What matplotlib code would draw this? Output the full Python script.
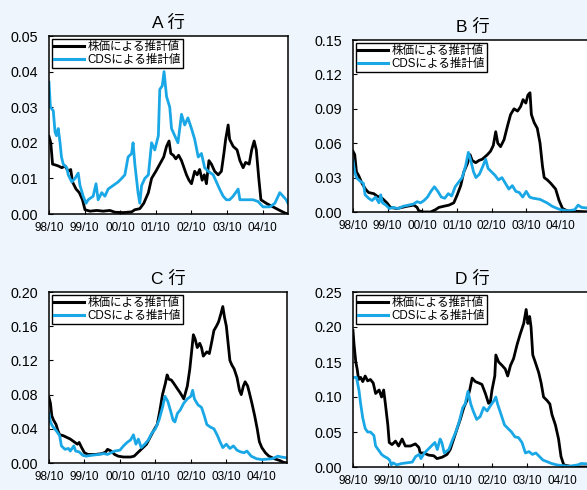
import matplotlib
matplotlib.use("Agg")
import matplotlib.pyplot as plt
import numpy as np

plt.rcParams['font.family'] = ['Liberation Sans', 'Noto Sans CJK JP', 'DejaVu Sans']

# time in years since 1998/10
tick_labels = ["98/10", "99/10", "00/10", "01/10", "02/10", "03/10", "04/10"]
titles = ["A 行", "B 行", "C 行", "D 行"]
legend_labels = ["株価による推計値", "CDSによる推計値"]

# ---- Panel A ----
a_stock_t = [0, 0.05, 0.10, 0.17, 0.26, 0.36, 0.45, 0.54, 0.61, 0.66, 0.76, 0.85, 0.94, 1.01, 1.15, 1.34,
             1.52, 1.71, 1.85, 2.08, 2.32, 2.41, 2.55, 2.66, 2.79, 2.88, 3.0, 3.11, 3.22, 3.30, 3.37, 3.42,
             3.49, 3.56, 3.64, 3.72, 3.79, 3.86, 3.93, 4.0, 4.09, 4.16, 4.23, 4.30, 4.36, 4.42, 4.49, 4.56,
             4.65, 4.75, 4.84, 4.91, 4.96, 5.03, 5.07, 5.17, 5.28, 5.36, 5.45, 5.52, 5.62, 5.69, 5.76, 5.82,
             5.89, 5.95, 6.10, 6.29, 6.48, 6.62, 6.71]
a_stock_v = [0.0218, 0.020, 0.014, 0.0138, 0.0135, 0.013, 0.0135, 0.012, 0.0125, 0.009, 0.007, 0.006, 0.004,
             0.0012, 0.0008, 0.001, 0.0008, 0.001, 0.0005, 0.0004, 0.0006, 0.0012, 0.0015, 0.003, 0.006,
             0.010, 0.012, 0.014, 0.016, 0.019, 0.0205, 0.017, 0.0165, 0.0155, 0.0165, 0.015, 0.013, 0.011,
             0.0095, 0.0085, 0.012, 0.011, 0.0125, 0.0095, 0.011, 0.0085, 0.015, 0.014, 0.012, 0.011, 0.012,
             0.017, 0.021, 0.025, 0.021, 0.019, 0.018, 0.015, 0.013, 0.0145, 0.014, 0.018, 0.0205, 0.018,
             0.010, 0.004, 0.003, 0.002, 0.001, 0.0003, 0.0]
a_cds_t = [0, 0.04, 0.12, 0.17, 0.21, 0.26, 0.31, 0.35, 0.40, 0.50, 0.54, 0.64, 0.73, 0.82, 0.87, 0.96, 1.04,
           1.10, 1.24, 1.32, 1.38, 1.48, 1.57, 1.66, 1.80, 1.94, 2.04, 2.13, 2.22, 2.32, 2.36, 2.41, 2.50,
           2.55, 2.60, 2.69, 2.79, 2.88, 2.97, 3.07, 3.11, 3.18, 3.23, 3.30, 3.39, 3.44, 3.53, 3.62, 3.72,
           3.81, 3.90, 4.0, 4.09, 4.19, 4.28, 4.37, 4.47, 4.61, 4.70, 4.79, 4.89, 4.98, 5.07, 5.17, 5.31,
           5.36, 5.54, 5.73, 5.87, 6.01, 6.20, 6.34, 6.48, 6.57, 6.66, 6.71]
a_cds_v = [0.037, 0.030, 0.029, 0.023, 0.022, 0.024, 0.020, 0.016, 0.014, 0.013, 0.011, 0.009, 0.010, 0.0115,
           0.008, 0.005, 0.003, 0.004, 0.005, 0.0085, 0.004, 0.006, 0.005, 0.007, 0.008, 0.009, 0.010, 0.011,
           0.016, 0.017, 0.020, 0.014, 0.006, 0.003, 0.008, 0.010, 0.011, 0.020, 0.018, 0.022, 0.035, 0.036,
           0.040, 0.033, 0.030, 0.024, 0.022, 0.020, 0.028, 0.025, 0.027, 0.024, 0.021, 0.016, 0.017, 0.013,
           0.012, 0.011, 0.009, 0.007, 0.005, 0.004, 0.004, 0.005, 0.007, 0.004, 0.004, 0.004, 0.0035, 0.002,
           0.002, 0.003, 0.006, 0.005, 0.004, 0.003]

# ---- Panel B ----
b_stock_t = [0, 0.05, 0.10, 0.16, 0.26, 0.36, 0.45, 0.60, 0.69, 0.84, 0.98, 1.08, 1.27, 1.56, 1.76, 1.85, 1.90,
             2.04, 2.24, 2.38, 2.48, 2.62, 2.77, 2.91, 3.01, 3.11, 3.20, 3.30, 3.38, 3.44, 3.54, 3.64, 3.73,
             3.88, 3.97, 4.05, 4.12, 4.18, 4.26, 4.36, 4.46, 4.55, 4.65, 4.75, 4.84, 4.91, 4.99, 5.05, 5.11,
             5.15, 5.23, 5.32, 5.40, 5.47, 5.52, 5.61, 5.71, 5.85, 5.95, 6.05, 6.19, 6.48, 6.9]
b_stock_v = [0.053, 0.050, 0.035, 0.032, 0.025, 0.020, 0.017, 0.016, 0.014, 0.012, 0.008, 0.004, 0.003, 0.005,
             0.006, 0.004, 0.001, 0.0, 0.0, 0.002, 0.004, 0.005, 0.006, 0.008, 0.015, 0.023, 0.035, 0.042,
             0.050, 0.045, 0.043, 0.045, 0.046, 0.050, 0.053, 0.058, 0.070, 0.060, 0.057, 0.063, 0.075, 0.085,
             0.090, 0.088, 0.092, 0.098, 0.095, 0.102, 0.104, 0.085, 0.078, 0.073, 0.060, 0.040, 0.030, 0.028,
             0.025, 0.020, 0.010, 0.003, 0.001, 0.0005, 0.0]
b_cds_t = [0, 0.05, 0.10, 0.20, 0.30, 0.35, 0.45, 0.55, 0.65, 0.75, 0.80, 0.85, 0.95, 1.05, 1.15, 1.30, 1.45,
           1.60, 1.75, 1.85, 1.95, 2.05, 2.15, 2.25, 2.35, 2.45, 2.55, 2.65, 2.75, 2.85, 2.95, 3.05, 3.15,
           3.25, 3.33, 3.40, 3.48, 3.55, 3.65, 3.75, 3.83, 3.90, 4.0, 4.1, 4.2, 4.3, 4.4, 4.5, 4.6, 4.7, 4.8,
           4.9, 5.0, 5.1, 5.2, 5.4, 5.6, 5.75, 5.9, 6.0, 6.2, 6.4, 6.5, 6.6, 6.9]
b_cds_v = [0.045, 0.035, 0.030, 0.027, 0.025, 0.015, 0.012, 0.010, 0.013, 0.008, 0.015, 0.008, 0.006, 0.003,
           0.004, 0.003, 0.005, 0.006, 0.007, 0.009, 0.008, 0.010, 0.013, 0.018, 0.022, 0.018, 0.013, 0.012,
           0.016, 0.014, 0.022, 0.026, 0.030, 0.040, 0.052, 0.045, 0.035, 0.030, 0.033, 0.040, 0.046, 0.038,
           0.035, 0.032, 0.028, 0.030, 0.025, 0.020, 0.023, 0.018, 0.017, 0.013, 0.018, 0.013, 0.012, 0.011,
           0.008, 0.005, 0.003, 0.002, 0.001, 0.002, 0.006, 0.004, 0.003]

# ---- Panel C ----
c_stock_t = [0, 0.04, 0.08, 0.13, 0.2, 0.25, 0.3, 0.4, 0.5, 0.6, 0.7, 0.8, 0.85, 0.92, 1.0, 1.1, 1.3, 1.5,
             1.6, 1.65, 1.75, 1.85, 1.95, 2.1, 2.3, 2.4, 2.45, 2.55, 2.65, 2.75, 2.85, 2.95, 3.05, 3.12, 3.2,
             3.28, 3.33, 3.38, 3.45, 3.52, 3.6, 3.7, 3.8, 3.9, 3.97, 4.02, 4.07, 4.12, 4.18, 4.25, 4.3, 4.35,
             4.45, 4.52, 4.58, 4.65, 4.72, 4.78, 4.85, 4.9, 4.95, 5.0, 5.05, 5.1, 5.15, 5.22, 5.3, 5.37, 5.42,
             5.48, 5.53, 5.6, 5.65, 5.72, 5.8, 5.87, 5.93, 6.0, 6.1, 6.2, 6.35, 6.5, 6.6, 6.71]
c_stock_v = [0.0765, 0.070, 0.055, 0.050, 0.045, 0.038, 0.033, 0.032, 0.030, 0.028, 0.025, 0.022, 0.024, 0.018,
             0.012, 0.010, 0.010, 0.011, 0.013, 0.016, 0.014, 0.010, 0.008, 0.007, 0.007, 0.008, 0.010, 0.014,
             0.018, 0.022, 0.030, 0.038, 0.045, 0.060, 0.080, 0.093, 0.103, 0.098, 0.097, 0.093, 0.088, 0.082,
             0.075, 0.090, 0.110, 0.130, 0.150, 0.145, 0.135, 0.140, 0.135, 0.125, 0.130, 0.128, 0.140, 0.155,
             0.160, 0.165, 0.175, 0.183, 0.170, 0.160, 0.140, 0.120, 0.115, 0.110, 0.100, 0.085, 0.080, 0.090,
             0.095, 0.090, 0.082, 0.070, 0.055, 0.040, 0.025, 0.018, 0.012, 0.008, 0.005, 0.003, 0.001, 0.0]
c_cds_t = [0, 0.04, 0.1, 0.2, 0.3, 0.35, 0.45, 0.55, 0.6, 0.7, 0.75, 0.85, 0.95, 1.05, 1.2, 1.4, 1.55, 1.65,
           1.75, 1.85, 2.0, 2.1, 2.2, 2.3, 2.38, 2.45, 2.52, 2.6, 2.7, 2.8, 2.9, 3.0, 3.1, 3.2, 3.27, 3.35,
           3.42, 3.5, 3.55, 3.62, 3.7, 3.8, 3.9, 4.0, 4.05, 4.1, 4.2, 4.3, 4.38, 4.45, 4.55, 4.65, 4.75, 4.82,
           4.9, 5.0, 5.1, 5.2, 5.3, 5.4, 5.5, 5.58, 5.7, 5.85, 6.0, 6.3, 6.45, 6.55, 6.71]
c_cds_v = [0.058, 0.048, 0.043, 0.038, 0.032, 0.020, 0.016, 0.017, 0.014, 0.020, 0.014, 0.013, 0.009, 0.008,
           0.009, 0.010, 0.011, 0.010, 0.012, 0.014, 0.015, 0.020, 0.024, 0.027, 0.033, 0.022, 0.028, 0.018,
           0.022, 0.027, 0.035, 0.040, 0.050, 0.065, 0.078, 0.072, 0.062, 0.050, 0.048, 0.058, 0.062, 0.070,
           0.075, 0.078, 0.085, 0.075, 0.068, 0.065, 0.055, 0.045, 0.042, 0.040, 0.032, 0.025, 0.018, 0.022,
           0.017, 0.020, 0.015, 0.013, 0.012, 0.014, 0.008, 0.005, 0.004, 0.005, 0.008, 0.007, 0.006]

# ---- Panel D ----
d_stock_t = [0, 0.03, 0.08, 0.12, 0.16, 0.22, 0.28, 0.35, 0.42, 0.5, 0.58, 0.65, 0.75, 0.82, 0.88, 0.93, 1.0,
             1.04, 1.12, 1.22, 1.31, 1.41, 1.5, 1.65, 1.79, 1.89, 1.93, 2.03, 2.17, 2.32, 2.41, 2.56, 2.7, 2.79,
             2.89, 2.99, 3.08, 3.18, 3.27, 3.35, 3.42, 3.51, 3.61, 3.7, 3.8, 3.89, 3.94, 3.99, 4.07, 4.1, 4.18,
             4.28, 4.37, 4.44, 4.52, 4.61, 4.71, 4.8, 4.9, 4.97, 5.02, 5.07, 5.11, 5.16, 5.23, 5.33, 5.4, 5.47,
             5.57, 5.65, 5.71, 5.81, 5.9, 5.97, 6.05, 6.24, 6.53, 6.9]
d_stock_v = [0.195, 0.175, 0.150, 0.140, 0.125, 0.128, 0.122, 0.130, 0.123, 0.125, 0.120, 0.105, 0.110, 0.100,
             0.110, 0.090, 0.060, 0.035, 0.032, 0.037, 0.030, 0.040, 0.030, 0.030, 0.033, 0.028, 0.020, 0.020,
             0.017, 0.016, 0.012, 0.014, 0.018, 0.025, 0.040, 0.055, 0.068, 0.085, 0.095, 0.110, 0.127, 0.122,
             0.120, 0.118, 0.105, 0.091, 0.092, 0.110, 0.130, 0.160, 0.150, 0.145, 0.140, 0.130, 0.145, 0.155,
             0.175, 0.190, 0.205, 0.225, 0.205, 0.215, 0.200, 0.160, 0.150, 0.135, 0.120, 0.100, 0.095, 0.090,
             0.075, 0.060, 0.040, 0.015, 0.003, 0.001, 0.0, 0.0]
d_cds_t = [0, 0.1, 0.17, 0.22, 0.28, 0.35, 0.42, 0.5, 0.6, 0.65, 0.75, 0.82, 0.9, 0.98, 1.05, 1.1, 1.15, 1.25,
           1.4, 1.55, 1.7, 1.8, 1.9, 1.95, 2.05, 2.15, 2.25, 2.35, 2.42, 2.5, 2.55, 2.62, 2.75, 2.85, 2.95,
           3.05, 3.15, 3.22, 3.3, 3.38, 3.45, 3.55, 3.65, 3.75, 3.85, 3.95, 4.05, 4.1, 4.15, 4.25, 4.35, 4.45,
           4.55, 4.65, 4.75, 4.85, 4.95, 5.05, 5.15, 5.25, 5.35, 5.45, 5.55, 5.7, 5.85, 6.0, 6.2, 6.45, 6.55,
           6.9]
d_cds_v = [0.128, 0.128, 0.110, 0.090, 0.070, 0.055, 0.050, 0.050, 0.045, 0.030, 0.023, 0.018, 0.015, 0.013,
           0.010, 0.003, 0.006, 0.003, 0.005, 0.006, 0.007, 0.015, 0.018, 0.012, 0.020, 0.025, 0.030, 0.035,
           0.025, 0.040, 0.035, 0.020, 0.025, 0.038, 0.050, 0.065, 0.085, 0.090, 0.108, 0.090, 0.080, 0.068,
           0.072, 0.085, 0.080, 0.088, 0.095, 0.100, 0.090, 0.075, 0.060, 0.055, 0.050, 0.043, 0.042, 0.035,
           0.020, 0.022, 0.018, 0.020, 0.015, 0.010, 0.008, 0.005, 0.003, 0.002, 0.001, 0.003, 0.005, 0.004]

panels = [
    dict(title=titles[0], st=a_stock_t, sv=a_stock_v, ct=a_cds_t, cv=a_cds_v,
         yticks=[0.00, 0.01, 0.02, 0.03, 0.04, 0.05], box=(49, 36, 288, 214), xmax=6.71),
    dict(title=titles[1], st=b_stock_t, sv=b_stock_v, ct=b_cds_t, cv=b_cds_v,
         yticks=[0.00, 0.03, 0.06, 0.09, 0.12, 0.15], box=(353, 40, 592, 212), xmax=6.9),
    dict(title=titles[2], st=c_stock_t, sv=c_stock_v, ct=c_cds_t, cv=c_cds_v,
         yticks=[0.00, 0.04, 0.08, 0.12, 0.16, 0.20], box=(49, 292, 287, 463), xmax=6.71),
    dict(title=titles[3], st=d_stock_t, sv=d_stock_v, ct=d_cds_t, cv=d_cds_v,
         yticks=[0.00, 0.05, 0.10, 0.15, 0.20, 0.25], box=(353, 292, 592, 467), xmax=6.86),
]

W, H = 587, 490
BG = '#EEF5FC'
BLUE = '#1AA7E6'
fig = plt.figure(figsize=(W / 100, H / 100), dpi=100, facecolor=BG)

for p in panels:
    l, t, r, b = p['box']
    ax = fig.add_axes([l / W, 1 - b / H, (r - l) / W, (b - t) / H])
    ax.set_facecolor('white')
    ax.plot(p['st'], p['sv'], color='black', lw=2.0, label=legend_labels[0], solid_joinstyle='round')
    ax.plot(p['ct'], p['cv'], color=BLUE, lw=2.0, label=legend_labels[1], solid_joinstyle='round')
    ax.set_xlim(0, p['xmax'])
    ax.set_ylim(p['yticks'][0], p['yticks'][-1])
    ax.set_yticks(p['yticks'])
    ax.set_yticklabels([f"{v:.2f}" for v in p['yticks']], fontsize=10.3)
    ax.set_xticks(range(len(tick_labels)))
    ax.set_xticklabels(tick_labels, fontsize=8.5)
    ax.tick_params(direction='in', length=3, width=0.8)
    ax.tick_params(axis='y', pad=8)
    ax.tick_params(axis='x', pad=6)
    for s in ax.spines.values():
        s.set_linewidth(1.1)
    ax.set_title(p['title'], fontsize=12.5, pad=6, family=['Liberation Sans', 'Noto Sans CJK JP'])
    leg = ax.legend(loc='upper left', bbox_to_anchor=(0.0, 1.0), borderaxespad=0.25,
                    prop={'family': ['Liberation Sans', 'Noto Sans CJK JP'], 'size': 8.3},
                    fancybox=False, framealpha=1, edgecolor='black', handlelength=2.6,
                    handletextpad=0.3, borderpad=0.2, labelspacing=0.05)
    leg.get_frame().set_linewidth(1.0)
    for h in leg.get_lines():
        h.set_linewidth(2.2)

fig.savefig('out.png', dpi=100, facecolor=BG)
